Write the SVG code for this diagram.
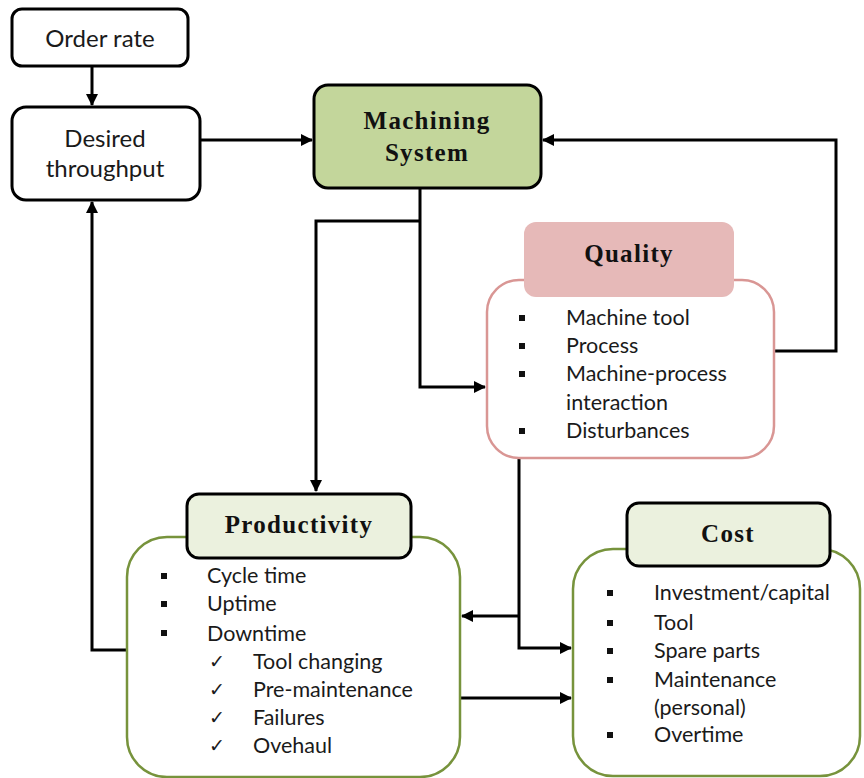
<svg xmlns="http://www.w3.org/2000/svg" width="864" height="778" viewBox="0 0 864 778">
<style>
.box{fill:#fff;stroke:#000;stroke-width:3}
.t{font-family:Lato,"Open Sans","Liberation Sans",sans-serif;font-size:24px;fill:#1a1a1a}
.li{font-family:Lato,"Open Sans","Liberation Sans",sans-serif;font-size:21.5px;fill:#1a1a1a}
.h{font-family:"Liberation Serif","Times New Roman",serif;font-weight:bold;font-size:25px;letter-spacing:1.3px;fill:#111;text-anchor:middle}
.ck{font-family:"DejaVu Sans",sans-serif;font-size:19px;fill:#1a1a1a}
.c{fill:none;stroke:#000;stroke-width:3}
.green{fill:#fff;stroke:#77933c;stroke-width:2.5}
</style>
<defs>
<marker id="a" markerWidth="12" markerHeight="12" refX="11" refY="6" orient="auto" markerUnits="userSpaceOnUse">
<path d="M0,0 L12,6 L0,12 z" fill="#000"/>
</marker>
<rect id="b" width="6" height="6" fill="#111"/>
</defs>
<rect width="864" height="778" fill="#fff"/>

<g id="connectors">
<path class="c" d="M92,66 V105" marker-end="url(#a)"/>
<path class="c" d="M200,140 H312" marker-end="url(#a)"/>
<path class="c" d="M420,188 V387 H485" marker-end="url(#a)"/>
<path class="c" d="M420,221 H316 V491" marker-end="url(#a)"/>
<path class="c" d="M774,351 H836 V140 H543" marker-end="url(#a)"/>
<path class="c" d="M519,459 V648 H571" marker-end="url(#a)"/>
<path class="c" d="M519,616 H462" marker-end="url(#a)"/>
<path class="c" d="M460,698 H571" marker-end="url(#a)"/>
<path class="c" d="M127,650 H92 V202" marker-end="url(#a)"/>
</g>

<g id="order-rate">
<rect class="box" x="12" y="9" width="176" height="57" rx="10"/>
<text class="t" x="100" y="47" text-anchor="middle">Order rate</text>
</g>

<g id="desired-throughput">
<rect class="box" x="12" y="107" width="188" height="93" rx="14"/>
<text class="t" x="105" y="147" text-anchor="middle">Desired</text>
<text class="t" x="105" y="177" text-anchor="middle">throughput</text>
</g>

<g id="machining-system">
<rect x="314" y="85" width="227" height="103" rx="14" fill="#c3d69b" stroke="#000" stroke-width="3"/>
<text class="h" x="427" y="129">Machining</text>
<text class="h" x="427" y="161">System</text>
</g>

<g id="quality">
<rect x="487" y="280" width="287" height="178" rx="32" fill="#fff" stroke="#d99694" stroke-width="2.5"/>
<rect x="524" y="222" width="210" height="75" rx="12" fill="#e6b9b8"/>
<text class="h" x="629" y="262">Quality</text>
<use href="#b" x="519" y="315"/>
<use href="#b" x="519" y="343"/>
<use href="#b" x="519" y="371"/>
<use href="#b" x="519" y="428"/>
<text class="li" x="566" y="325">Machine tool</text>
<text class="li" x="566" y="353">Process</text>
<text class="li" x="566" y="381">Machine-process</text>
<text class="li" x="566" y="410">interaction</text>
<text class="li" x="566" y="438">Disturbances</text>
</g>

<g id="productivity">
<rect class="green" x="127" y="537" width="333" height="240" rx="40"/>
<rect x="187" y="494" width="224" height="64" rx="12" fill="#ebf1de" stroke="#000" stroke-width="3"/>
<text class="h" x="299" y="533">Productivity</text>
<use href="#b" x="161" y="573"/>
<use href="#b" x="161" y="601"/>
<use href="#b" x="161" y="630"/>
<text class="li" x="207" y="583">Cycle time</text>
<text class="li" x="207" y="611">Uptime</text>
<text class="li" x="207" y="641">Downtime</text>
<text class="ck" x="209" y="668">✓</text>
<text class="ck" x="209" y="696">✓</text>
<text class="ck" x="209" y="724">✓</text>
<text class="ck" x="209" y="752">✓</text>
<text class="li" x="253" y="669">Tool changing</text>
<text class="li" x="253" y="697">Pre-maintenance</text>
<text class="li" x="253" y="725">Failures</text>
<text class="li" x="253" y="753">Ovehaul</text>
</g>

<g id="cost">
<rect class="green" x="573" y="549" width="287" height="227" rx="40"/>
<rect x="627" y="503" width="203" height="63" rx="12" fill="#ebf1de" stroke="#000" stroke-width="3"/>
<text class="h" x="728" y="542">Cost</text>
<use href="#b" x="607" y="590"/>
<use href="#b" x="607" y="620"/>
<use href="#b" x="607" y="648"/>
<use href="#b" x="607" y="677"/>
<use href="#b" x="607" y="732"/>
<text class="li" x="654" y="600">Investment/capital</text>
<text class="li" x="654" y="630">Tool</text>
<text class="li" x="654" y="658">Spare parts</text>
<text class="li" x="654" y="687">Maintenance</text>
<text class="li" x="654" y="715">(personal)</text>
<text class="li" x="654" y="742">Overtime</text>
</g>
</svg>
